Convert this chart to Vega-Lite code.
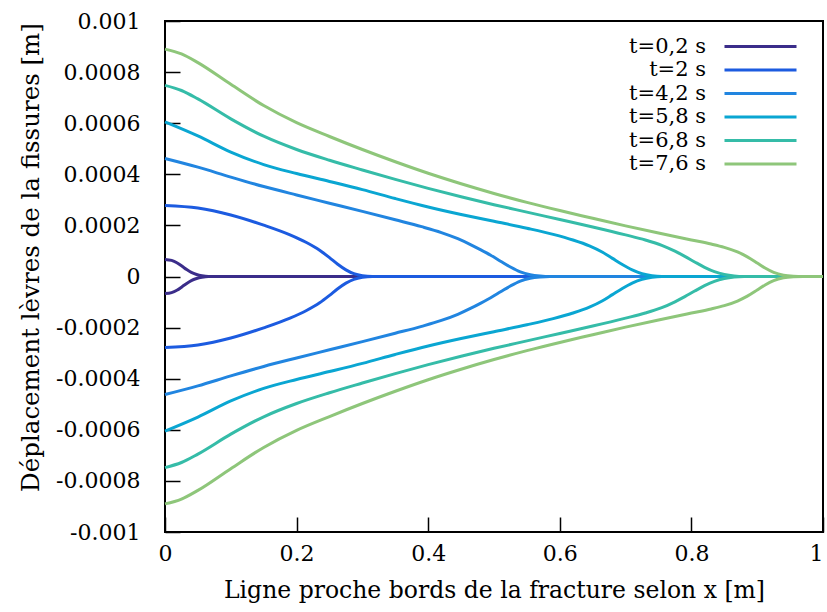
{
  "$schema": "https://vega.github.io/schema/vega-lite/v6.json",
  "width": 658,
  "height": 511,
  "autosize": {"type": "none"},
  "padding": {"left": 165, "top": 21, "right": 4, "bottom": 80},
  "background": "white",
  "config": {
    "font": "DejaVu Serif",
    "view": {"stroke": "black", "strokeWidth": 2},
    "axis": {
      "labelFont": "DejaVu Serif", "labelFontSize": 22, "labelColor": "black", "labelFlush": false, "labelOverlap": false,
      "titleFont": "DejaVu Serif", "titleFontSize": 23.5, "titleFontWeight": "normal", "titleColor": "black",
      "grid": false, "domain": false, "tickColor": "black", "tickWidth": 1.5, "tickSize": -15
    },
    "legend": {"labelFont": "DejaVu Serif", "labelFontSize": 21, "labelColor": "black"}
  },
  "data": {"values": [
    {"t":"t=0,2 s","b":"u","x":0,"y":0.000067},{"t":"t=0,2 s","b":"u","x":0.01,"y":0.000063},{"t":"t=0,2 s","b":"u","x":0.018,"y":0.000054},{"t":"t=0,2 s","b":"u","x":0.026,"y":0.00004},{"t":"t=0,2 s","b":"u","x":0.033,"y":0.000027},{"t":"t=0,2 s","b":"u","x":0.04,"y":0.000016},{"t":"t=0,2 s","b":"u","x":0.048,"y":0.000008},{"t":"t=0,2 s","b":"u","x":0.056,"y":0.000003},{"t":"t=0,2 s","b":"u","x":0.066,"y":0},{"t":"t=0,2 s","b":"u","x":1,"y":0},
    {"t":"t=0,2 s","b":"l","x":0,"y":-0.000067},{"t":"t=0,2 s","b":"l","x":0.01,"y":-0.000063},{"t":"t=0,2 s","b":"l","x":0.018,"y":-0.000054},{"t":"t=0,2 s","b":"l","x":0.026,"y":-0.00004},{"t":"t=0,2 s","b":"l","x":0.033,"y":-0.000027},{"t":"t=0,2 s","b":"l","x":0.04,"y":-0.000016},{"t":"t=0,2 s","b":"l","x":0.048,"y":-0.000008},{"t":"t=0,2 s","b":"l","x":0.056,"y":-0.000003},{"t":"t=0,2 s","b":"l","x":0.066,"y":0},{"t":"t=0,2 s","b":"l","x":1,"y":0},

    {"t":"t=2 s","b":"u","x":0,"y":0.000278},{"t":"t=2 s","b":"u","x":0.05,"y":0.000268},{"t":"t=2 s","b":"u","x":0.1,"y":0.000241},{"t":"t=2 s","b":"u","x":0.15,"y":0.000201},{"t":"t=2 s","b":"u","x":0.19,"y":0.000163},{"t":"t=2 s","b":"u","x":0.215,"y":0.000133},{"t":"t=2 s","b":"u","x":0.235,"y":0.000103},{"t":"t=2 s","b":"u","x":0.25,"y":0.000074},{"t":"t=2 s","b":"u","x":0.262,"y":0.000049},{"t":"t=2 s","b":"u","x":0.275,"y":0.000026},{"t":"t=2 s","b":"u","x":0.287,"y":0.000011},{"t":"t=2 s","b":"u","x":0.3,"y":0.000003},{"t":"t=2 s","b":"u","x":0.315,"y":0},{"t":"t=2 s","b":"u","x":1,"y":0},
    {"t":"t=2 s","b":"l","x":0,"y":-0.000278},{"t":"t=2 s","b":"l","x":0.05,"y":-0.000268},{"t":"t=2 s","b":"l","x":0.1,"y":-0.000241},{"t":"t=2 s","b":"l","x":0.15,"y":-0.000201},{"t":"t=2 s","b":"l","x":0.19,"y":-0.000163},{"t":"t=2 s","b":"l","x":0.215,"y":-0.000133},{"t":"t=2 s","b":"l","x":0.235,"y":-0.000103},{"t":"t=2 s","b":"l","x":0.25,"y":-0.000074},{"t":"t=2 s","b":"l","x":0.262,"y":-0.000049},{"t":"t=2 s","b":"l","x":0.275,"y":-0.000026},{"t":"t=2 s","b":"l","x":0.287,"y":-0.000011},{"t":"t=2 s","b":"l","x":0.3,"y":-0.000003},{"t":"t=2 s","b":"l","x":0.315,"y":0},{"t":"t=2 s","b":"l","x":1,"y":0},

    {"t":"t=4,2 s","b":"u","x":0,"y":0.000462},{"t":"t=4,2 s","b":"u","x":0.05,"y":0.000428},{"t":"t=4,2 s","b":"u","x":0.1,"y":0.000389},{"t":"t=4,2 s","b":"u","x":0.15,"y":0.000352},{"t":"t=4,2 s","b":"u","x":0.2,"y":0.000319},{"t":"t=4,2 s","b":"u","x":0.25,"y":0.000287},{"t":"t=4,2 s","b":"u","x":0.3,"y":0.000255},{"t":"t=4,2 s","b":"u","x":0.35,"y":0.000222},{"t":"t=4,2 s","b":"u","x":0.39,"y":0.000195},{"t":"t=4,2 s","b":"u","x":0.42,"y":0.000172},{"t":"t=4,2 s","b":"u","x":0.445,"y":0.000148},{"t":"t=4,2 s","b":"u","x":0.465,"y":0.000124},{"t":"t=4,2 s","b":"u","x":0.48,"y":0.000104},{"t":"t=4,2 s","b":"u","x":0.495,"y":0.000083},{"t":"t=4,2 s","b":"u","x":0.51,"y":0.00006},{"t":"t=4,2 s","b":"u","x":0.525,"y":0.000037},{"t":"t=4,2 s","b":"u","x":0.54,"y":0.000018},{"t":"t=4,2 s","b":"u","x":0.555,"y":0.000007},{"t":"t=4,2 s","b":"u","x":0.57,"y":0.000002},{"t":"t=4,2 s","b":"u","x":0.585,"y":0},{"t":"t=4,2 s","b":"u","x":1,"y":0},
    {"t":"t=4,2 s","b":"l","x":0,"y":-0.000462},{"t":"t=4,2 s","b":"l","x":0.05,"y":-0.000428},{"t":"t=4,2 s","b":"l","x":0.1,"y":-0.000389},{"t":"t=4,2 s","b":"l","x":0.15,"y":-0.000352},{"t":"t=4,2 s","b":"l","x":0.2,"y":-0.000319},{"t":"t=4,2 s","b":"l","x":0.25,"y":-0.000287},{"t":"t=4,2 s","b":"l","x":0.3,"y":-0.000255},{"t":"t=4,2 s","b":"l","x":0.35,"y":-0.000222},{"t":"t=4,2 s","b":"l","x":0.39,"y":-0.000195},{"t":"t=4,2 s","b":"l","x":0.42,"y":-0.000172},{"t":"t=4,2 s","b":"l","x":0.445,"y":-0.000148},{"t":"t=4,2 s","b":"l","x":0.465,"y":-0.000124},{"t":"t=4,2 s","b":"l","x":0.48,"y":-0.000104},{"t":"t=4,2 s","b":"l","x":0.495,"y":-0.000083},{"t":"t=4,2 s","b":"l","x":0.51,"y":-0.00006},{"t":"t=4,2 s","b":"l","x":0.525,"y":-0.000037},{"t":"t=4,2 s","b":"l","x":0.54,"y":-0.000018},{"t":"t=4,2 s","b":"l","x":0.555,"y":-0.000007},{"t":"t=4,2 s","b":"l","x":0.57,"y":-0.000002},{"t":"t=4,2 s","b":"l","x":0.585,"y":0},{"t":"t=4,2 s","b":"l","x":1,"y":0},

    {"t":"t=5,8 s","b":"u","x":0,"y":0.000605},{"t":"t=5,8 s","b":"u","x":0.05,"y":0.00055},{"t":"t=5,8 s","b":"u","x":0.1,"y":0.000487},{"t":"t=5,8 s","b":"u","x":0.15,"y":0.000438},{"t":"t=5,8 s","b":"u","x":0.2,"y":0.000403},{"t":"t=5,8 s","b":"u","x":0.25,"y":0.000372},{"t":"t=5,8 s","b":"u","x":0.3,"y":0.00034},{"t":"t=5,8 s","b":"u","x":0.35,"y":0.000305},{"t":"t=5,8 s","b":"u","x":0.4,"y":0.000272},{"t":"t=5,8 s","b":"u","x":0.45,"y":0.000243},{"t":"t=5,8 s","b":"u","x":0.5,"y":0.000216},{"t":"t=5,8 s","b":"u","x":0.55,"y":0.000189},{"t":"t=5,8 s","b":"u","x":0.59,"y":0.000165},{"t":"t=5,8 s","b":"u","x":0.62,"y":0.000143},{"t":"t=5,8 s","b":"u","x":0.645,"y":0.00012},{"t":"t=5,8 s","b":"u","x":0.665,"y":0.000095},{"t":"t=5,8 s","b":"u","x":0.68,"y":0.000071},{"t":"t=5,8 s","b":"u","x":0.695,"y":0.000047},{"t":"t=5,8 s","b":"u","x":0.71,"y":0.000026},{"t":"t=5,8 s","b":"u","x":0.725,"y":0.000011},{"t":"t=5,8 s","b":"u","x":0.74,"y":0.000003},{"t":"t=5,8 s","b":"u","x":0.755,"y":0},{"t":"t=5,8 s","b":"u","x":1,"y":0},
    {"t":"t=5,8 s","b":"l","x":0,"y":-0.000605},{"t":"t=5,8 s","b":"l","x":0.05,"y":-0.00055},{"t":"t=5,8 s","b":"l","x":0.1,"y":-0.000487},{"t":"t=5,8 s","b":"l","x":0.15,"y":-0.000438},{"t":"t=5,8 s","b":"l","x":0.2,"y":-0.000403},{"t":"t=5,8 s","b":"l","x":0.25,"y":-0.000372},{"t":"t=5,8 s","b":"l","x":0.3,"y":-0.00034},{"t":"t=5,8 s","b":"l","x":0.35,"y":-0.000305},{"t":"t=5,8 s","b":"l","x":0.4,"y":-0.000272},{"t":"t=5,8 s","b":"l","x":0.45,"y":-0.000243},{"t":"t=5,8 s","b":"l","x":0.5,"y":-0.000216},{"t":"t=5,8 s","b":"l","x":0.55,"y":-0.000189},{"t":"t=5,8 s","b":"l","x":0.59,"y":-0.000165},{"t":"t=5,8 s","b":"l","x":0.62,"y":-0.000143},{"t":"t=5,8 s","b":"l","x":0.645,"y":-0.00012},{"t":"t=5,8 s","b":"l","x":0.665,"y":-0.000095},{"t":"t=5,8 s","b":"l","x":0.68,"y":-0.000071},{"t":"t=5,8 s","b":"l","x":0.695,"y":-0.000047},{"t":"t=5,8 s","b":"l","x":0.71,"y":-0.000026},{"t":"t=5,8 s","b":"l","x":0.725,"y":-0.000011},{"t":"t=5,8 s","b":"l","x":0.74,"y":-0.000003},{"t":"t=5,8 s","b":"l","x":0.755,"y":0},{"t":"t=5,8 s","b":"l","x":1,"y":0},

    {"t":"t=6,8 s","b":"u","x":0,"y":0.000748},{"t":"t=6,8 s","b":"u","x":0.025,"y":0.000728},{"t":"t=6,8 s","b":"u","x":0.05,"y":0.000695},{"t":"t=6,8 s","b":"u","x":0.1,"y":0.000617},{"t":"t=6,8 s","b":"u","x":0.15,"y":0.000549},{"t":"t=6,8 s","b":"u","x":0.2,"y":0.000497},{"t":"t=6,8 s","b":"u","x":0.25,"y":0.000455},{"t":"t=6,8 s","b":"u","x":0.3,"y":0.000417},{"t":"t=6,8 s","b":"u","x":0.35,"y":0.00038},{"t":"t=6,8 s","b":"u","x":0.4,"y":0.000345},{"t":"t=6,8 s","b":"u","x":0.45,"y":0.000312},{"t":"t=6,8 s","b":"u","x":0.5,"y":0.000281},{"t":"t=6,8 s","b":"u","x":0.55,"y":0.000252},{"t":"t=6,8 s","b":"u","x":0.6,"y":0.000223},{"t":"t=6,8 s","b":"u","x":0.65,"y":0.000194},{"t":"t=6,8 s","b":"u","x":0.7,"y":0.000163},{"t":"t=6,8 s","b":"u","x":0.73,"y":0.000143},{"t":"t=6,8 s","b":"u","x":0.755,"y":0.000122},{"t":"t=6,8 s","b":"u","x":0.775,"y":0.000099},{"t":"t=6,8 s","b":"u","x":0.79,"y":0.000079},{"t":"t=6,8 s","b":"u","x":0.805,"y":0.000057},{"t":"t=6,8 s","b":"u","x":0.82,"y":0.000036},{"t":"t=6,8 s","b":"u","x":0.835,"y":0.000019},{"t":"t=6,8 s","b":"u","x":0.85,"y":0.000008},{"t":"t=6,8 s","b":"u","x":0.865,"y":0.000002},{"t":"t=6,8 s","b":"u","x":0.88,"y":0},{"t":"t=6,8 s","b":"u","x":1,"y":0},
    {"t":"t=6,8 s","b":"l","x":0,"y":-0.000748},{"t":"t=6,8 s","b":"l","x":0.025,"y":-0.000728},{"t":"t=6,8 s","b":"l","x":0.05,"y":-0.000695},{"t":"t=6,8 s","b":"l","x":0.1,"y":-0.000617},{"t":"t=6,8 s","b":"l","x":0.15,"y":-0.000549},{"t":"t=6,8 s","b":"l","x":0.2,"y":-0.000497},{"t":"t=6,8 s","b":"l","x":0.25,"y":-0.000455},{"t":"t=6,8 s","b":"l","x":0.3,"y":-0.000417},{"t":"t=6,8 s","b":"l","x":0.35,"y":-0.00038},{"t":"t=6,8 s","b":"l","x":0.4,"y":-0.000345},{"t":"t=6,8 s","b":"l","x":0.45,"y":-0.000312},{"t":"t=6,8 s","b":"l","x":0.5,"y":-0.000281},{"t":"t=6,8 s","b":"l","x":0.55,"y":-0.000252},{"t":"t=6,8 s","b":"l","x":0.6,"y":-0.000223},{"t":"t=6,8 s","b":"l","x":0.65,"y":-0.000194},{"t":"t=6,8 s","b":"l","x":0.7,"y":-0.000163},{"t":"t=6,8 s","b":"l","x":0.73,"y":-0.000143},{"t":"t=6,8 s","b":"l","x":0.755,"y":-0.000122},{"t":"t=6,8 s","b":"l","x":0.775,"y":-0.000099},{"t":"t=6,8 s","b":"l","x":0.79,"y":-0.000079},{"t":"t=6,8 s","b":"l","x":0.805,"y":-0.000057},{"t":"t=6,8 s","b":"l","x":0.82,"y":-0.000036},{"t":"t=6,8 s","b":"l","x":0.835,"y":-0.000019},{"t":"t=6,8 s","b":"l","x":0.85,"y":-0.000008},{"t":"t=6,8 s","b":"l","x":0.865,"y":-0.000002},{"t":"t=6,8 s","b":"l","x":0.88,"y":0},{"t":"t=6,8 s","b":"l","x":1,"y":0},

    {"t":"t=7,6 s","b":"u","x":0,"y":0.00089},{"t":"t=7,6 s","b":"u","x":0.025,"y":0.000871},{"t":"t=7,6 s","b":"u","x":0.05,"y":0.000837},{"t":"t=7,6 s","b":"u","x":0.1,"y":0.000752},{"t":"t=7,6 s","b":"u","x":0.15,"y":0.000669},{"t":"t=7,6 s","b":"u","x":0.2,"y":0.000602},{"t":"t=7,6 s","b":"u","x":0.25,"y":0.000548},{"t":"t=7,6 s","b":"u","x":0.3,"y":0.000497},{"t":"t=7,6 s","b":"u","x":0.35,"y":0.000449},{"t":"t=7,6 s","b":"u","x":0.4,"y":0.000404},{"t":"t=7,6 s","b":"u","x":0.45,"y":0.000363},{"t":"t=7,6 s","b":"u","x":0.5,"y":0.000325},{"t":"t=7,6 s","b":"u","x":0.55,"y":0.00029},{"t":"t=7,6 s","b":"u","x":0.6,"y":0.000258},{"t":"t=7,6 s","b":"u","x":0.65,"y":0.000228},{"t":"t=7,6 s","b":"u","x":0.7,"y":0.000198},{"t":"t=7,6 s","b":"u","x":0.75,"y":0.00017},{"t":"t=7,6 s","b":"u","x":0.8,"y":0.000143},{"t":"t=7,6 s","b":"u","x":0.83,"y":0.000127},{"t":"t=7,6 s","b":"u","x":0.85,"y":0.000114},{"t":"t=7,6 s","b":"u","x":0.87,"y":0.000096},{"t":"t=7,6 s","b":"u","x":0.885,"y":0.000077},{"t":"t=7,6 s","b":"u","x":0.9,"y":0.000053},{"t":"t=7,6 s","b":"u","x":0.912,"y":0.000033},{"t":"t=7,6 s","b":"u","x":0.925,"y":0.000016},{"t":"t=7,6 s","b":"u","x":0.94,"y":0.000005},{"t":"t=7,6 s","b":"u","x":0.955,"y":0.000001},{"t":"t=7,6 s","b":"u","x":0.97,"y":0},{"t":"t=7,6 s","b":"u","x":1,"y":0},
    {"t":"t=7,6 s","b":"l","x":0,"y":-0.00089},{"t":"t=7,6 s","b":"l","x":0.025,"y":-0.000871},{"t":"t=7,6 s","b":"l","x":0.05,"y":-0.000837},{"t":"t=7,6 s","b":"l","x":0.1,"y":-0.000752},{"t":"t=7,6 s","b":"l","x":0.15,"y":-0.000669},{"t":"t=7,6 s","b":"l","x":0.2,"y":-0.000602},{"t":"t=7,6 s","b":"l","x":0.25,"y":-0.000548},{"t":"t=7,6 s","b":"l","x":0.3,"y":-0.000497},{"t":"t=7,6 s","b":"l","x":0.35,"y":-0.000449},{"t":"t=7,6 s","b":"l","x":0.4,"y":-0.000404},{"t":"t=7,6 s","b":"l","x":0.45,"y":-0.000363},{"t":"t=7,6 s","b":"l","x":0.5,"y":-0.000325},{"t":"t=7,6 s","b":"l","x":0.55,"y":-0.00029},{"t":"t=7,6 s","b":"l","x":0.6,"y":-0.000258},{"t":"t=7,6 s","b":"l","x":0.65,"y":-0.000228},{"t":"t=7,6 s","b":"l","x":0.7,"y":-0.000198},{"t":"t=7,6 s","b":"l","x":0.75,"y":-0.00017},{"t":"t=7,6 s","b":"l","x":0.8,"y":-0.000143},{"t":"t=7,6 s","b":"l","x":0.83,"y":-0.000127},{"t":"t=7,6 s","b":"l","x":0.85,"y":-0.000114},{"t":"t=7,6 s","b":"l","x":0.87,"y":-0.000096},{"t":"t=7,6 s","b":"l","x":0.885,"y":-0.000077},{"t":"t=7,6 s","b":"l","x":0.9,"y":-0.000053},{"t":"t=7,6 s","b":"l","x":0.912,"y":-0.000033},{"t":"t=7,6 s","b":"l","x":0.925,"y":-0.000016},{"t":"t=7,6 s","b":"l","x":0.94,"y":-0.000005},{"t":"t=7,6 s","b":"l","x":0.955,"y":-0.000001},{"t":"t=7,6 s","b":"l","x":0.97,"y":0},{"t":"t=7,6 s","b":"l","x":1,"y":0}
  ]},
  "mark": {"type": "line", "strokeWidth": 3, "interpolate": "monotone"},
  "encoding": {
    "x": {
      "field": "x", "type": "quantitative",
      "scale": {"domain": [0, 1], "nice": false},
      "axis": {"values": [0, 0.2, 0.4, 0.6, 0.8, 1], "format": "~g", "labelPadding": 26,
               "labelAlign": {"condition": {"test": "datum.value >= 1", "value": "right"}, "value": "center"},
               "title": "Ligne proche bords de la fracture selon x [m]", "titleY": 58, "titleBaseline": "middle"}
    },
    "y": {
      "field": "y", "type": "quantitative",
      "scale": {"domain": [-0.001, 0.001], "nice": false, "zero": false},
      "axis": {"values": [-0.001, -0.0008, -0.0006, -0.0004, -0.0002, 0, 0.0002, 0.0004, 0.0006, 0.0008, 0.001],
               "labelExpr": "replace(format(datum.value, '~g'), '−', '-')", "labelPadding": 40,
               "title": "Déplacement lèvres de la fissures [m]", "titleFontSize": 24.5, "titleX": -134, "titleY": 236, "titleBaseline": "middle", "titleAlign": "center"}
    },
    "color": {
      "field": "t", "type": "nominal",
      "scale": {"domain": ["t=0,2 s", "t=2 s", "t=4,2 s", "t=5,8 s", "t=6,8 s", "t=7,6 s"],
                "range": ["#3b2d8a", "#1c5be0", "#2185e0", "#0aa6d2", "#35bca8", "#8ec67a"]},
      "legend": {"title": null, "orient": "none", "legendX": 585, "legendY": 15,
                 "symbolType": "M-4,0H4", "symbolSize": 324, "symbolStrokeWidth": 3,
                 "labelAlign": "right", "labelOffset": -65, "rowPadding": 1.5, "padding": 0}
    },
    "detail": {"field": "b", "type": "nominal"}
  }
}
